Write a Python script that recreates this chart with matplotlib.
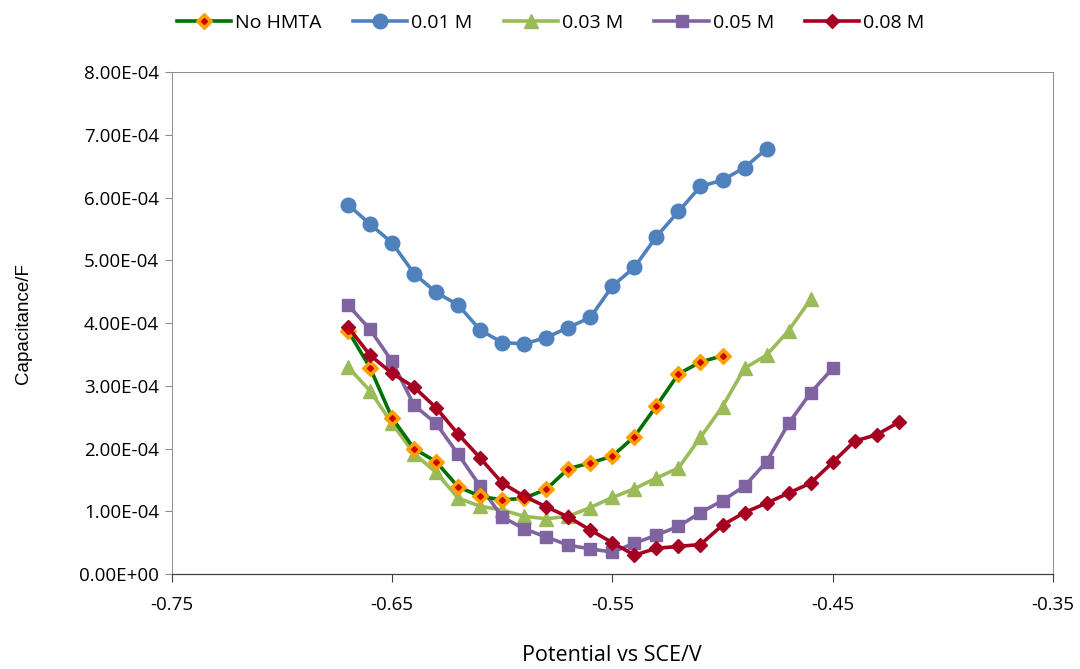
""" Capacitance vs potential for HMTA concentrations """
import numpy as np
from matplotlib import pyplot as plt
from matplotlib.ticker import FuncFormatter, MultipleLocator
from matplotlib.legend_handler import HandlerTuple

plt.rcParams['font.family'] = ['Open Sans', 'DejaVu Sans']
plt.rcParams['axes.unicode_minus'] = False

# Data (capacitance in units of 1e-4 F)
pot_start = -0.67
cap_none = [3.88, 3.29, 2.49, 2.00, 1.79, 1.39, 1.24, 1.18, 1.21, 1.35, 1.68,
            1.77, 1.88, 2.19, 2.68, 3.19, 3.38, 3.48]
cap_001 = [5.89, 5.58, 5.28, 4.79, 4.49, 4.29, 3.89, 3.69, 3.67, 3.77, 3.93,
           4.09, 4.59, 4.89, 5.38, 5.78, 6.18, 6.28, 6.48, 6.78]
cap_003 = [3.30, 2.92, 2.40, 1.92, 1.62, 1.21, 1.08, 1.02, 0.92, 0.88, 0.92,
           1.06, 1.22, 1.36, 1.53, 1.69, 2.18, 2.67, 3.28, 3.49, 3.88, 4.38]
cap_005 = [4.29, 3.90, 3.39, 2.69, 2.40, 1.91, 1.40, 0.91, 0.72, 0.59, 0.46,
           0.40, 0.35, 0.49, 0.62, 0.76, 0.98, 1.17, 1.40, 1.79, 2.40, 2.89, 3.28]
cap_008 = [3.94, 3.49, 3.20, 2.98, 2.65, 2.23, 1.85, 1.45, 1.24, 1.07, 0.91,
           0.70, 0.50, 0.30, 0.41, 0.44, 0.47, 0.78, 0.98, 1.13, 1.29, 1.45,
           1.78, 2.12, 2.22, 2.42]
x_ticks = [-0.75, -0.65, -0.55, -0.45, -0.35]


def pot(n):
    return pot_start + 0.01 * np.arange(n)


fig = plt.figure(figsize=(10.8, 6.69), dpi=100)
ax = fig.add_axes([0.159, 0.142, 0.816, 0.750])

# No HMTA: orange diamond with red centre
l0, = ax.plot(pot(len(cap_none)), np.array(cap_none) * 1e-4, color='#007000',
              lw=2.6, marker='D', ms=8, mfc='#FFA000', mec='#FFA000', zorder=3)
l0b, = ax.plot(pot(len(cap_none)), np.array(cap_none) * 1e-4, ls='none',
               marker='D', ms=3, mfc='#D00000', mec='#D00000', zorder=4)

l1, = ax.plot(pot(len(cap_001)), np.array(cap_001) * 1e-4, color='#4F81BD',
              lw=2.6, marker='o', ms=10.5)
l3, = ax.plot(pot(len(cap_003)), np.array(cap_003) * 1e-4, color='#9BBB59',
              lw=2.6, marker='^', ms=10.5)
l5, = ax.plot(pot(len(cap_005)), np.array(cap_005) * 1e-4, color='#8064A2',
              lw=2.6, marker='s', ms=8.5)
l8, = ax.plot(pot(len(cap_008)), np.array(cap_008) * 1e-4, color='#A50021',
              lw=2.6, marker='D', ms=7.5, zorder=3)

# Axes
ax.set_xlim(-0.75, -0.35)
ax.set_ylim(0, 8e-4)
ax.set_xticks(x_ticks)
ax.yaxis.set_major_locator(MultipleLocator(1e-4))
ax.xaxis.set_major_formatter(FuncFormatter(lambda v, p: f'{v:.2f}'))
ax.yaxis.set_major_formatter(FuncFormatter(lambda v, p: f'{v:.2E}'))
for side in ['top', 'right', 'left']:
    ax.spines[side].set_color('#8c8c8c')
    ax.spines[side].set_linewidth(0.7)
ax.spines['bottom'].set_color('#404040')
ax.spines['bottom'].set_linewidth(0.9)
ax.tick_params(axis='x', direction='out', length=6, color='#404040',
               labelsize=13.5, pad=10)
ax.tick_params(axis='y', direction='out', length=5, color='#8c8c8c',
               labelsize=13.5, pad=4)

ax.set_xlabel('Potential vs SCE/V', fontsize=15.5, labelpad=22)
ax.set_ylabel('Capacitance/F', fontsize=13.5, labelpad=34,
              family=['Liberation Sans', 'DejaVu Sans'])

fig.legend([(l0, l0b), l1, l3, l5, l8],
           ['No HMTA', '0.01 M', '0.03 M', '0.05 M', '0.08 M'],
           handler_map={tuple: HandlerTuple(ndivide=1)},
           loc='upper center', bbox_to_anchor=(0.51, 1.005), ncol=5,
           frameon=False, fontsize=14, handlelength=2.8,
           columnspacing=1.6, handletextpad=0.2)

plt.savefig('out.png', dpi=100)
print('Saved out.png')
